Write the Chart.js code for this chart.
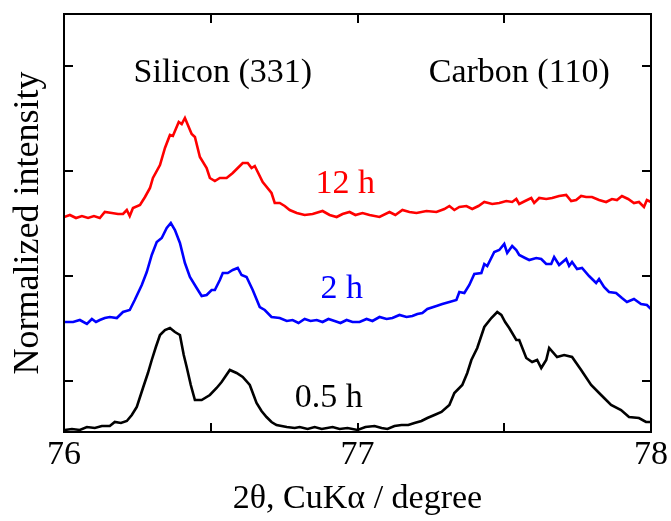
<!DOCTYPE html>
<html>
<head>
<meta charset="utf-8">
<script src="https://cdn.jsdelivr.net/npm/chart.js@4"></script>
<style>
  body { margin: 0; background: #fff; }
  #wrap { width: 671px; height: 521px; }
</style>
</head>
<body>
<div id="wrap"><canvas id="xrd" width="671" height="521"></canvas></div>
<script>
// 2θ (degree) and normalized intensity (offset per milling time)
const theta12 = [76.000, 76.020, 76.041, 76.061, 76.082, 76.102, 76.122, 76.139, 76.163, 76.184, 76.201, 76.214, 76.224, 76.235, 76.259, 76.276, 76.293, 76.303, 76.327, 76.344, 76.361, 76.371, 76.391, 76.401, 76.412, 76.435, 76.446, 76.463, 76.486, 76.497, 76.514, 76.531, 76.554, 76.575, 76.592, 76.609, 76.626, 76.639, 76.650, 76.677, 76.707, 76.718, 76.735, 76.752, 76.769, 76.793, 76.820, 76.847, 76.881, 76.905, 76.929, 76.949, 76.973, 76.993, 77.017, 77.041, 77.075, 77.109, 77.129, 77.153, 77.177, 77.201, 77.235, 77.269, 77.296, 77.313, 77.330, 77.347, 77.371, 77.391, 77.412, 77.432, 77.459, 77.483, 77.507, 77.527, 77.541, 77.551, 77.571, 77.592, 77.602, 77.619, 77.643, 77.663, 77.687, 77.711, 77.728, 77.745, 77.762, 77.779, 77.799, 77.823, 77.847, 77.867, 77.884, 77.901, 77.922, 77.942, 77.959, 77.976, 77.986, 78.000];
const int12 = [215, 217, 214, 216, 214, 216, 214, 220, 219, 218, 218, 222, 216, 224, 227, 235, 244, 254, 267, 284, 297, 296, 310, 308, 314, 298, 295, 275, 264, 254, 251, 254, 254, 259, 264, 269, 269, 264, 266, 250, 239, 229, 229, 226, 222, 219, 217, 218, 221, 217, 215, 218, 220, 217, 219, 217, 215, 220, 217, 222, 220, 219, 221, 220, 223, 226, 222, 225, 226, 223, 226, 230, 228, 229, 231, 230, 233, 228, 231, 234, 229, 234, 233, 234, 236, 237, 231, 232, 236, 235, 235, 232, 230, 233, 232, 236, 233, 229, 230, 225, 232, 230];

const theta2 = [76.000, 76.031, 76.054, 76.078, 76.095, 76.109, 76.122, 76.139, 76.156, 76.180, 76.201, 76.224, 76.241, 76.265, 76.282, 76.299, 76.316, 76.333, 76.350, 76.364, 76.378, 76.395, 76.412, 76.429, 76.452, 76.469, 76.486, 76.503, 76.514, 76.531, 76.541, 76.558, 76.575, 76.592, 76.605, 76.622, 76.643, 76.667, 76.684, 76.707, 76.735, 76.759, 76.779, 76.799, 76.820, 76.840, 76.861, 76.881, 76.901, 76.922, 76.942, 76.963, 76.983, 77.007, 77.031, 77.051, 77.075, 77.099, 77.119, 77.143, 77.167, 77.187, 77.204, 77.221, 77.238, 77.269, 77.289, 77.313, 77.337, 77.347, 77.364, 77.381, 77.398, 77.422, 77.432, 77.442, 77.466, 77.483, 77.500, 77.510, 77.527, 77.541, 77.551, 77.571, 77.585, 77.609, 77.626, 77.643, 77.660, 77.670, 77.687, 77.711, 77.721, 77.731, 77.748, 77.765, 77.789, 77.813, 77.823, 77.840, 77.857, 77.881, 77.901, 77.918, 77.942, 77.966, 77.986, 78.000];
const int2 = [110, 110, 112, 108, 113, 110, 112, 114, 115, 114, 120, 122, 132, 147, 160, 177, 190, 194, 204, 209, 202, 189, 169, 155, 144, 136, 137, 142, 142, 152, 159, 159, 162, 164, 157, 155, 142, 125, 122, 115, 114, 111, 112, 109, 113, 111, 112, 110, 113, 111, 109, 112, 110, 110, 113, 111, 115, 113, 114, 117, 115, 116, 118, 119, 123, 126, 128, 130, 132, 140, 139, 147, 158, 159, 168, 166, 180, 182, 188, 179, 186, 182, 177, 174, 172, 174, 173, 168, 168, 175, 167, 173, 166, 170, 163, 164, 156, 149, 153, 145, 140, 139, 134, 130, 133, 128, 127, 123];

const theta05 = [76.003, 76.027, 76.054, 76.078, 76.105, 76.129, 76.156, 76.173, 76.194, 76.214, 76.231, 76.248, 76.269, 76.286, 76.299, 76.313, 76.327, 76.344, 76.361, 76.378, 76.395, 76.408, 76.418, 76.432, 76.446, 76.469, 76.497, 76.520, 76.537, 76.565, 76.588, 76.609, 76.633, 76.656, 76.673, 76.690, 76.707, 76.724, 76.759, 76.786, 76.803, 76.830, 76.854, 76.878, 76.915, 76.939, 76.966, 77.000, 77.027, 77.058, 77.082, 77.102, 77.126, 77.150, 77.173, 77.194, 77.218, 77.238, 77.262, 77.286, 77.313, 77.330, 77.357, 77.374, 77.388, 77.408, 77.432, 77.456, 77.476, 77.490, 77.503, 77.517, 77.541, 77.551, 77.575, 77.595, 77.612, 77.626, 77.643, 77.653, 77.680, 77.704, 77.731, 77.762, 77.796, 77.830, 77.864, 77.898, 77.925, 77.959, 77.983, 78.000];
const int05 = [2, 3, 2, 5, 4, 6, 6, 10, 9, 11, 17, 25, 44, 59, 72, 85, 97, 102, 104, 100, 97, 77, 65, 47, 32, 32, 37, 44, 50, 62, 59, 55, 47, 29, 21, 15, 10, 7, 5, 4, 5, 3, 5, 3, 5, 3, 4, 2, 5, 6, 4, 3, 6, 7, 7, 9, 11, 14, 17, 20, 27, 39, 47, 59, 72, 84, 105, 114, 120, 117, 110, 104, 92, 92, 74, 70, 72, 64, 72, 84, 75, 77, 75, 62, 47, 37, 27, 22, 15, 14, 10, 10];

const xTicks = [76, 77, 78];
const xMinor = [76.5, 77.5];
const yTicks = [51, 156, 261, 366];
const seriesNames = ['0.5 h', '2 h', '12 h'];
const peakNames = ['Silicon (331)', 'Carbon (110)'];

const serif = '"Liberation Serif", "Times New Roman", serif';

function toPoints(xs, ys) {
  return xs.map((x, i) => ({ x: x, y: ys[i] }));
}

// frame, inward ticks and text labels
const framePlugin = {
  id: 'frame',
  afterDatasetsDraw(chart) {
    const { ctx, chartArea: a, scales } = chart;
    const xs = scales.x, ys = scales.y;
    ctx.save();
    ctx.strokeStyle = '#000';
    ctx.lineWidth = 2;
    ctx.strokeRect(a.left, a.top, a.right - a.left, a.bottom - a.top);
    ctx.beginPath();
    xTicks.concat(xMinor).forEach(v => {
      const px = Math.round(xs.getPixelForValue(v));
      ctx.moveTo(px, a.bottom); ctx.lineTo(px, a.bottom - 9);
      ctx.moveTo(px, a.top); ctx.lineTo(px, a.top + 9);
    });
    yTicks.forEach(v => {
      const py = Math.round(ys.getPixelForValue(v));
      ctx.moveTo(a.left, py); ctx.lineTo(a.left + 9, py);
      ctx.moveTo(a.right, py); ctx.lineTo(a.right - 9, py);
    });
    ctx.stroke();

    ctx.font = '34px ' + serif;
    ctx.textBaseline = 'alphabetic';
    ctx.textAlign = 'center';
    ctx.fillStyle = '#000';
    ctx.fillText(peakNames[0], xs.getPixelForValue(76.541), ys.getPixelForValue(350));
    ctx.fillText(peakNames[1], xs.getPixelForValue(77.551), ys.getPixelForValue(350));

    ctx.textAlign = 'left';
    const tags = [[76.786, 25, '#000'], [76.874, 134, '#0000ff'], [76.857, 239, '#ff0000']];
    tags.forEach((t, i) => {
      ctx.fillStyle = t[2];
      ctx.fillText(seriesNames[i], xs.getPixelForValue(t[0]), ys.getPixelForValue(t[1]));
    });
    ctx.restore();
  }
};

new Chart(document.getElementById('xrd'), {
  type: 'line',
  data: {
    datasets: [
      { label: seriesNames[0], data: toPoints(theta05, int05), borderColor: '#000000' },
      { label: seriesNames[1], data: toPoints(theta2, int2), borderColor: '#0000ff' },
      { label: seriesNames[2], data: toPoints(theta12, int12), borderColor: '#ff0000' }
    ]
  },
  options: {
    responsive: false,
    animation: false,
    layout: { padding: { top: 14, right: 19, left: 0, bottom: 0 } },
    elements: {
      line: { borderWidth: 2.6, tension: 0, fill: false },
      point: { radius: 0 }
    },
    plugins: { legend: { display: false }, tooltip: { enabled: false } },
    scales: {
      x: {
        type: 'linear',
        min: 76,
        max: 78,
        afterBuildTicks: s => { s.ticks = xTicks.map(v => ({ value: v })); },
        afterFit: s => { s.height = 89; },
        grid: { display: false, drawTicks: false },
        border: { display: false },
        ticks: { color: '#000', padding: 3, font: { family: serif, size: 34 } },
        title: {
          display: true,
          text: '2θ, CuKα / degree',
          color: '#000',
          font: { family: serif, size: 34 },
          padding: { top: 0, bottom: 2 }
        }
      },
      y: {
        min: 0,
        max: 418,
        afterBuildTicks: s => { s.ticks = yTicks.map(v => ({ value: v })); },
        afterFit: s => { s.width = 64; },
        grid: { display: false, drawTicks: false },
        border: { display: false },
        ticks: { display: false },
        title: {
          display: true,
          text: 'Normalized intensity',
          color: '#000',
          font: { family: serif, size: 36 },
          padding: { top: 7, bottom: 0 }
        }
      }
    }
  },
  plugins: [framePlugin]
});
</script>
</body>
</html>
